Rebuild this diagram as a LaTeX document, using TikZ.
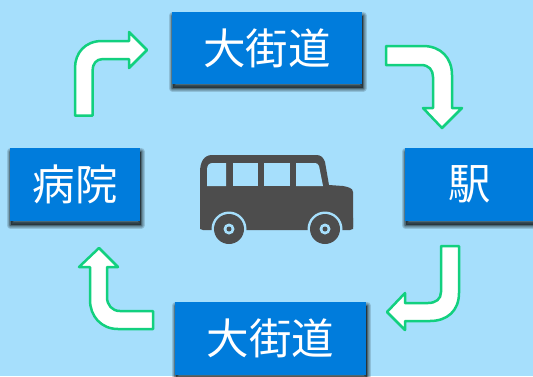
\documentclass[tikz,border=0pt]{standalone}
\usepackage{fontspec}
\usetikzlibrary{backgrounds}
\newfontfamily\cjk{Noto Sans CJK JP}
\definecolor{bgc}{HTML}{A6DFFC}
\definecolor{boxc}{HTML}{007CDC}
\definecolor{arr}{HTML}{12D07F}
\definecolor{busc}{HTML}{4D4D4D}
\tikzset{
  placebox/.style={fill=boxc,draw=none,inner sep=0pt,text=white,font=\cjk\fontsize{42.5}{42.5}\selectfont},
  softlayer/.style={fill=black,draw=black,line width=#1,line join=round,opacity=.14},
  turnarrow/.style={draw=arr,fill=white,line width=2.5pt,line join=round}
}
\newcommand{\lbl}[1]{\raisebox{3.5pt}{#1}}
\begin{document}
\begin{tikzpicture}[x=1pt,y=-1pt]
\useasboundingbox (0,0) rectangle (533,376);
\node[placebox,minimum width=190pt,minimum height=72pt] (top) at (267,48) {\lbl{大街道}};
\node[placebox,minimum width=130pt,minimum height=73pt] (hosp) at (75,184.5) {\lbl{病院}};
\node[placebox,minimum width=130pt,minimum height=73pt] (sta) at (470,184.5) {\lbl{駅}};
\node[placebox,minimum width=191pt,minimum height=73pt] (bot) at (270.5,338.5) {\lbl{大街道}};
\begin{scope}[on background layer]
\fill[bgc] (0,0) rectangle (533,376);
\foreach \nm in {top,hosp,sta,bot} {
  \foreach \lw in {7pt,5.5pt,4pt,2.5pt,1pt} {
    \draw[softlayer=\lw] ([shift={(0.8pt,-4pt)}]\nm.north west) rectangle ([shift={(0.8pt,-4pt)}]\nm.south east);
  }
}
\end{scope}
\draw[turnarrow] (75,115.5) -- (92.5,115.5) -- (92.5,71) .. controls (92.5,64) and (96,59) .. (103,59) -- (129,59) -- (129,68) -- (147,50) -- (129,32) -- (129,41) -- (102,41) .. controls (85,41) and (75,53) .. (75,68) -- cycle;
\draw[turnarrow] (386,46) -- (423,46) .. controls (441,46) and (452,58) .. (452,75) -- (452,108) -- (462,108) -- (442,128) -- (423,108) -- (433,108) -- (433,77) .. controls (433,70) and (429,65) .. (421,65) -- (386,65) -- cycle;
\draw[turnarrow] (441,246) -- (459,246) -- (459,293) .. controls (459,311) and (447,321) .. (430,321) -- (405,321) -- (405,330) -- (387,312) -- (405,293) -- (405,303) -- (428,303) .. controls (436,303) and (441,299) .. (441,292) -- cycle;
\draw[turnarrow] (153,311) -- (153,329) -- (118,329) .. controls (101,329) and (90,316) .. (90,300) -- (90,267) -- (79,267) -- (99,248) -- (118,267) -- (107,267) -- (107,297) .. controls (107,305) and (112,311) .. (120,311) -- cycle;
% bus
\fill[busc] (200,172) .. controls (200,162) and (204,155) .. (212,155) -- (316,155) .. controls (321,155) and (323,157) .. (325,162) -- (329,185) -- (343,186) .. controls (348,187) and (353,188) .. (353,192) -- (353,229) -- (200,229) -- cycle;
\fill[busc,rounded corners=3pt] (200,215) rectangle (353,230);
\fill[bgc] (207,170) .. controls (207,165) and (209,163) .. (213,163) -- (226,163) -- (226,186) -- (207,186) -- cycle;
\fill[bgc] (233,163) -- (258,163) -- (258,186) -- (233,186) -- cycle;
\fill[bgc] (264,163) -- (290,163) -- (290,186) -- (264,186) -- cycle;
\fill[bgc] (296,163) -- (315,163) .. controls (317,163) and (318,164) .. (319,166) -- (323,186) -- (296,186) -- cycle;
\foreach \cx in {229,325} {
  \fill[bgc] (\cx,229) circle (17.5pt);
}
\fill[bgc] (190,231) rectangle (360,250);
\foreach \cx in {229,325} {
  \fill[busc] (\cx,229) circle (15pt);
  \fill[bgc] (\cx,229) circle (5.5pt);
  \fill[busc] (\cx,229) circle (2.5pt);
}
\end{tikzpicture}
\end{document}
